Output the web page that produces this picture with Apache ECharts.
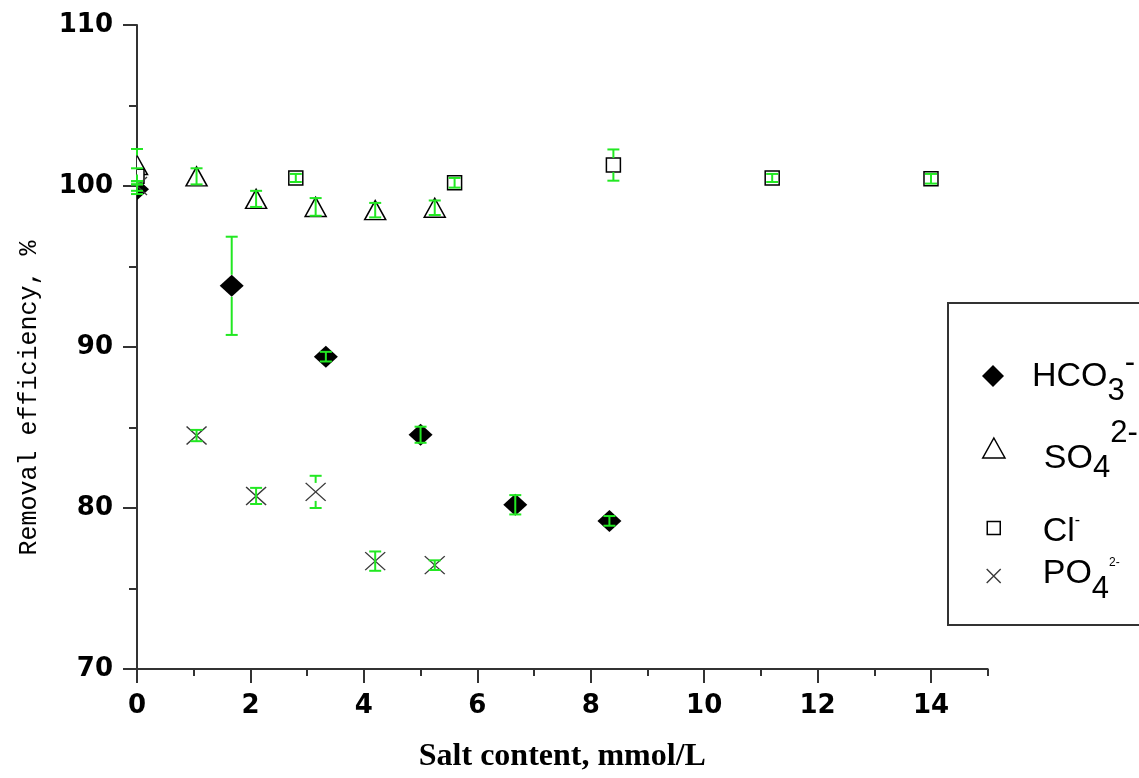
<!DOCTYPE html>
<html>
<head>
<meta charset="utf-8">
<script src="https://cdn.jsdelivr.net/npm/echarts@6/dist/echarts.min.js"></script>
<style>
  html, body { margin: 0; padding: 0; background: #fff; }
  #chart { width: 1139px; height: 778px; }
</style>
</head>
<body>
<div id="chart"></div>
<script>
// Removal efficiency (%) against salt content (mmol/L) for four anions,
// with the half-width of each error bar.
const hco3X   = [0, 1.67, 3.33, 5.0, 6.67, 8.33];
const hco3Y   = [99.8, 93.8, 89.4, 84.55, 80.2, 79.2];
const hco3Err = [0.3, 3.05, 0.3, 0.5, 0.6, 0.3];

const so4X   = [0, 1.05, 2.1, 3.15, 4.2, 5.25];
const so4Y   = [101.3, 100.6, 99.2, 98.7, 98.5, 98.65];
const so4Err = [1.0, 0.5, 0.5, 0.55, 0.45, 0.45];

const clX   = [0, 2.8, 5.6, 8.4, 11.2, 14.0];
const clY   = [100.6, 100.5, 100.2, 101.3, 100.5, 100.45];
const clErr = [0.5, 0.25, 0.3, 0.97, 0.25, 0.3];

const po4X   = [0, 1.05, 2.1, 3.15, 4.2, 5.25];
const po4Y   = [100.0, 84.5, 80.75, 81.0, 76.7, 76.45];
const po4Err = [0.3, 0.35, 0.5, 1.0, 0.6, 0.3];

const xMajorTicks = [0, 2, 4, 6, 8, 10, 12, 14];

const AXIS_COLOR = '#333';
const BAR_GREEN = '#22e822';
const CROSS_PATH = 'path://M0,0L10,10M10,0L0,10';
const LEGEND_FONT = "'Liberation Sans', Arial, sans-serif";

// marker look per anion: plot symbol, legend icon, size [w, h], fill, stroke
const markers = {
  hco3: { symbol: 'diamond',  icon: 'path://M10,0L20,10L10,20L0,10Z', size: [24, 22], fill: '#000', stroke: '#000', width: 0 },
  so4:  { symbol: 'triangle', icon: 'path://M10,0L20,18L0,18Z',        size: [21, 19], fill: '#fff', stroke: '#000', width: 1.5 },
  cl:   { symbol: 'rect',     icon: 'path://M0,0L10,0L10,10L0,10Z',    size: [14, 14], fill: '#fff', stroke: '#000', width: 1.5 },
  po4:  { symbol: CROSS_PATH, icon: CROSS_PATH,                        size: [20, 18], fill: 'none', stroke: '#3a3a3a', width: 1.4 }
};

// points off the y axis are plain scatter marks
function offAxis(xs, ys) {
  return xs.map((x, i) => [x, ys[i]]).filter(p => p[0] > 0);
}
// points sitting on x = 0 are drawn clipped to the plot area
function onAxis(xs, ys) {
  return xs.map((x, i) => [x, ys[i]]).filter(p => p[0] === 0);
}
function errorRows(xs, ys, es) {
  return xs.map((x, i) => [x, ys[i], ys[i] - es[i], ys[i] + es[i]]);
}

function scatterSeries(name, key, xs, ys) {
  const m = markers[key];
  return {
    name, type: 'scatter', z: 2,
    symbol: m.symbol, symbolSize: m.size,
    itemStyle: { color: m.fill, borderColor: m.stroke, borderWidth: m.width, opacity: 1 },
    data: offAxis(xs, ys)
  };
}

// vertical error bars with caps; the stem leaves a gap where the marker sits
function errorSeries(key, xs, ys, es) {
  const halfH = markers[key].size[1] / 2;
  return {
    type: 'custom', z: 4, clip: false, silent: true,
    encode: { x: 0, y: [1, 2, 3] },
    data: errorRows(xs, ys, es),
    renderItem: function (params, api) {
      const x = api.value(0);
      const c = api.coord([x, api.value(1)]);
      const lo = api.coord([x, api.value(2)]);
      const hi = api.coord([x, api.value(3)]);
      const cap = 6;
      const style = { stroke: BAR_GREEN, lineWidth: 2, fill: null };
      const kids = [
        { type: 'line', shape: { x1: lo[0] - cap, y1: lo[1], x2: lo[0] + cap, y2: lo[1] }, style },
        { type: 'line', shape: { x1: hi[0] - cap, y1: hi[1], x2: hi[0] + cap, y2: hi[1] }, style }
      ];
      if (lo[1] - c[1] > halfH + 1) {
        kids.push({ type: 'line', shape: { x1: c[0], y1: c[1] + halfH, x2: lo[0], y2: lo[1] }, style });
        kids.push({ type: 'line', shape: { x1: c[0], y1: c[1] - halfH, x2: hi[0], y2: hi[1] }, style });
      } else {
        kids.push({ type: 'line', shape: { x1: lo[0], y1: lo[1], x2: hi[0], y2: hi[1] }, style });
      }
      return { type: 'group', children: kids };
    }
  };
}

// markers at x = 0, cut by the left edge of the plot area
function edgeSeries(key, xs, ys) {
  const m = markers[key];
  return {
    type: 'custom', z: 3, clip: true, silent: true,
    data: onAxis(xs, ys),
    renderItem: function (params, api) {
      const p = api.coord([api.value(0), api.value(1)]);
      const w = m.size[0] / 2, h = m.size[1] / 2;
      const style = { fill: m.fill === 'none' ? null : m.fill, stroke: m.width ? m.stroke : null, lineWidth: m.width };
      if (key === 'hco3') {
        return { type: 'polygon', shape: { points: [[p[0], p[1] - h], [p[0] + w, p[1]], [p[0], p[1] + h], [p[0] - w, p[1]]] }, style };
      }
      if (key === 'so4') {
        return { type: 'polygon', shape: { points: [[p[0], p[1] - h], [p[0] + w, p[1] + h], [p[0] - w, p[1] + h]] }, style };
      }
      if (key === 'cl') {
        return { type: 'rect', shape: { x: p[0] - w, y: p[1] - h, width: 2 * w, height: 2 * h }, style };
      }
      return {
        type: 'group', children: [
          { type: 'line', shape: { x1: p[0] - w, y1: p[1] - h, x2: p[0] + w, y2: p[1] + h }, style: { stroke: m.stroke, lineWidth: m.width } },
          { type: 'line', shape: { x1: p[0] + w, y1: p[1] - h, x2: p[0] - w, y2: p[1] + h }, style: { stroke: m.stroke, lineWidth: m.width } }
        ]
      };
    }
  };
}

// One legend entry per anion; the icon is centred at iconX, iconY and the
// label starts at textX. A zero-width token fixes the line height, and each
// text part is top-aligned and pushed down by its top padding, which places
// the subscript and superscript.
const LINE_H = 80;
function legendBox(opts) {
  const m = markers[opts.key];
  const H = opts.iconSize;
  const W = 2 * (opts.textX - 5 - opts.iconX);
  return {
    orient: 'vertical', padding: 0, itemGap: 0, selectedMode: false,
    left: opts.iconX - H / 2, top: opts.iconY - LINE_H / 2,
    itemWidth: W, itemHeight: H,
    data: [{ name: opts.name, icon: m.icon }],
    itemStyle: { color: m.fill === 'none' ? 'rgba(0,0,0,0)' : m.fill, borderColor: m.stroke, borderWidth: m.width },
    formatter: () => '{pad|\u200b}' + opts.label,
    textStyle: {
      fontFamily: LEGEND_FONT, color: '#000',
      rich: Object.assign({ pad: { fontSize: 10, lineHeight: LINE_H, verticalAlign: 'middle' } }, opts.rich)
    }
  };
}

function tok(fontSize, padTop) {
  return {
    fontFamily: LEGEND_FONT, color: '#000', fontSize,
    lineHeight: 10, verticalAlign: 'top', padding: [padTop, 0, 0, 0]
  };
}

const chart = echarts.init(document.getElementById('chart'), null, { renderer: 'canvas' });

chart.setOption({
  animation: false,
  backgroundColor: '#fff',
  grid: { left: 137, right: 151.3, top: 25, bottom: 108, containLabel: false },
  xAxis: [
    {
      type: 'value', min: 0, max: 15, interval: 1, position: 'bottom',
      name: 'Salt content, mmol/L', nameLocation: 'middle', nameGap: 72,
      nameTextStyle: { fontFamily: "'Liberation Serif', 'Times New Roman', serif", fontWeight: 'bold', fontSize: 32, color: '#000' },
      axisLine: { show: true, lineStyle: { color: AXIS_COLOR, width: 2 } },
      axisTick: { show: true, length: 7, lineStyle: { color: AXIS_COLOR, width: 2 } },
      axisLabel: {
        margin: 24, fontFamily: "'DejaVu Sans', sans-serif", fontWeight: 'bold', fontSize: 26, color: '#000',
        formatter: v => (v % 2 === 0 ? String(v) : '')
      },
      splitLine: { show: false }
    },
    {
      type: 'value', min: 0, max: 15, interval: 2, position: 'bottom',
      axisLine: { show: false },
      axisTick: { show: true, length: 14, customValues: xMajorTicks, lineStyle: { color: AXIS_COLOR, width: 2 } },
      axisLabel: { show: false },
      splitLine: { show: false }
    }
  ],
  yAxis: {
    type: 'value', min: 70, max: 110, interval: 10,
    name: 'Removal efficiency, %', nameLocation: 'middle', nameGap: 95,
    nameTextStyle: { fontFamily: "'Liberation Mono', 'Courier New', monospace", fontSize: 25, color: '#000', padding: [0, 102, 0, 0] },
    axisLine: { show: true, lineStyle: { color: AXIS_COLOR, width: 2 } },
    axisTick: { show: true, length: 14, lineStyle: { color: AXIS_COLOR, width: 2 } },
    minorTick: { show: true, splitNumber: 2, length: 8, lineStyle: { color: AXIS_COLOR, width: 2 } },
    axisLabel: { margin: 24, fontFamily: "'DejaVu Sans', sans-serif", fontWeight: 'bold', fontSize: 26, color: '#000' },
    splitLine: { show: false },
    minorSplitLine: { show: false }
  },
  legend: [
    legendBox({
      key: 'hco3', name: 'HCO3-', iconX: 993, iconY: 376, iconSize: 22, textX: 1032,
      label: '{m|HCO}{sub|3}{sup|-}',
      rich: { m: tok(34, 24), sub: tok(31, 40), sup: tok(31, 12) }
    }),
    legendBox({
      key: 'so4', name: 'SO42-', iconX: 992, iconY: 448, iconSize: 20, textX: 1042,
      label: '{m|SO}{sub|4}{sup|2-}',
      rich: { m: tok(34, 34), sub: tok(31, 45), sup: tok(31, 10) }
    }),
    legendBox({
      key: 'cl', name: 'Cl-', iconX: 993, iconY: 528, iconSize: 13, textX: 1042,
      label: '{m|Cl}{sup|-}',
      rich: { m: tok(34, 27), sup: tok(16, 25) }
    }),
    legendBox({
      key: 'po4', name: 'PO42-', iconX: 993, iconY: 576, iconSize: 14, textX: 1042,
      label: '{m|PO}{sub|4}{sup|2-}',
      rich: { m: tok(34, 21), sub: tok(31, 38), sup: tok(12, 21) }
    })
  ],
  graphic: [
    {
      type: 'rect', z: -1, silent: true,
      shape: { x: 948, y: 303, width: 220, height: 322 },
      style: { fill: '#fff', stroke: '#333', lineWidth: 2 }
    }
  ],
  series: [
    scatterSeries('HCO3-', 'hco3', hco3X, hco3Y),
    scatterSeries('SO42-', 'so4', so4X, so4Y),
    scatterSeries('Cl-', 'cl', clX, clY),
    scatterSeries('PO42-', 'po4', po4X, po4Y),
    edgeSeries('hco3', hco3X, hco3Y),
    edgeSeries('so4', so4X, so4Y),
    edgeSeries('cl', clX, clY),
    edgeSeries('po4', po4X, po4Y),
    errorSeries('hco3', hco3X, hco3Y, hco3Err),
    errorSeries('so4', so4X, so4Y, so4Err),
    errorSeries('cl', clX, clY, clErr),
    errorSeries('po4', po4X, po4Y, po4Err)
  ]
});
</script>
</body>
</html>
